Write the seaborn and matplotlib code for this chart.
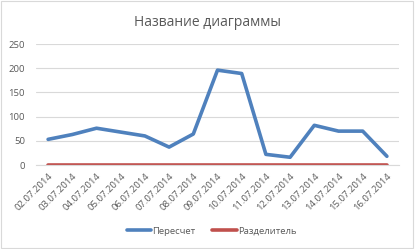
import matplotlib
matplotlib.use("Agg")
import matplotlib.pyplot as plt
import seaborn as sns
import pandas as pd
import numpy as np
from matplotlib.lines import Line2D

dates = ["02.07.2014", "03.07.2014", "04.07.2014", "05.07.2014", "06.07.2014",
         "07.07.2014", "08.07.2014", "09.07.2014", "10.07.2014", "11.07.2014",
         "12.07.2014", "13.07.2014", "14.07.2014", "15.07.2014", "16.07.2014"]
recount = [53, 63, 76, 68, 60, 37, 64, 196, 189, 22, 16, 82, 70, 70, 18]
divider = [0, 0, 0, 0, 0, 0, 0, 0, 0, 0, 0, 0, 0, 0, 0]
series_names = ["Пересчет", "Разделитель"]
yticks = [0, 50, 100, 150, 200, 250]

sns.set_theme(style="white")
plt.rcParams['font.family'] = ['Open Sans', 'DejaVu Sans']

df = pd.DataFrame({
    "date": dates * 2,
    "value": recount + divider,
    "series": [series_names[0]] * len(dates) + [series_names[1]] * len(dates),
})

fig = plt.figure(figsize=(4.15, 2.49), dpi=100)
ax = fig.add_axes([36/415, 1-165/249, (399-36)/415, (165-44)/249])

sns.lineplot(data=df, x="date", y="value", hue="series", sort=False,
             palette=["#4F81BD", "#C0504D"], linewidth=2.6, ax=ax, legend=False)

ax.set_xlim(-0.5, len(dates) - 0.5)
ax.set_ylim(0, 250)
ax.set_yticks(yticks)
ax.set_yticklabels([str(v) for v in yticks], fontsize=6.8, color="#595959")
ax.yaxis.grid(True, color="#D9D9D9", linewidth=0.8)
ax.set_axisbelow(True)
ax.tick_params(axis="y", length=0, pad=8)

ax.set_xticks(range(len(dates)))
ax.set_xticklabels(dates, rotation=45, ha="right", rotation_mode="anchor",
                   fontsize=6.8, color="#595959")
ax.tick_params(axis="x", which="major", length=0, pad=5)
ax.set_xticks(np.arange(-0.5, len(dates), 1.0), minor=True)
ax.tick_params(axis="x", which="minor", length=4, color="#D9D9D9", width=0.8, direction="out")
ax.set_xlabel("")
ax.set_ylabel("")

for s in ["top", "right", "left"]:
    ax.spines[s].set_visible(False)
ax.spines["bottom"].set_color("#D9D9D9")
ax.spines["bottom"].set_linewidth(0.8)

fig.text(0.5, 1 - 22/249, "Название диаграммы", ha="center", va="center",
         fontsize=10, color="#595959")

handles = [Line2D([0], [0], color="#4F81BD", lw=2.6),
           Line2D([0], [0], color="#C0504D", lw=2.6)]
fig.legend(handles, series_names, loc="center", bbox_to_anchor=(0.51, 1 - 231/249),
           ncol=2, frameon=False, fontsize=6.8, handlelength=2.6, handletextpad=0.1,
           columnspacing=1.8, labelcolor="#595959")

border = plt.Rectangle((0.002, 0.004), 0.994, 0.99, transform=fig.transFigure,
                       fill=False, edgecolor="#D9D9D9", linewidth=0.8)
fig.patches.append(border)

fig.savefig("out.png", dpi=100, facecolor="white")
